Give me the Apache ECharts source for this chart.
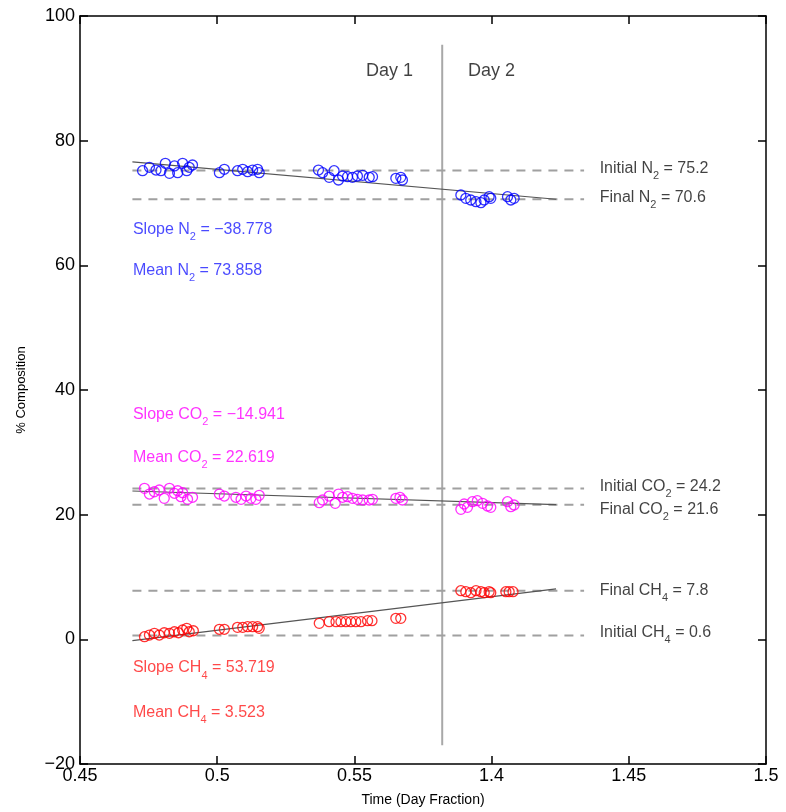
<!DOCTYPE html>
<html><head><meta charset="utf-8">
<script src="https://cdn.jsdelivr.net/npm/echarts@6/dist/echarts.min.js"></script>
<style>html,body{margin:0;padding:0;background:#fff}#chart{width:786px;height:812px}</style>
</head><body><div id="chart"></div>
<script>
// ---------- DATA ----------
const xTickLabels = ['0.45', '0.5', '0.55', '1.4', '1.45', '1.5'];
const day2Offset = 0.8;        // broken axis: day-2 times are drawn shifted left by this amount
const dayBreak = 0.582;        // axis position of the Day 1 / Day 2 divider

// [time (day fraction), % composition]
const n2Points = [
  [0.4728,75.18],[0.4753,75.73],[0.4777,75.29],[0.4795,75.18],[0.4811,76.37],[0.4826,74.76],
  [0.4844,75.94],[0.4856,74.86],[0.4874,76.37],[0.4889,75.18],[0.4898,75.73],[0.4910,76.10],
  [0.5008,74.86],[0.5026,75.41],[0.5074,75.18],[0.5093,75.41],[0.5111,75.02],[0.5129,75.29],
  [0.5147,75.41],[0.5153,74.86],
  [0.5369,75.29],[0.5384,74.86],[0.5408,74.12],[0.5426,75.18],[0.5442,73.69],[0.5457,74.33],
  [0.5475,74.22],[0.5493,74.12],[0.5511,74.33],[0.5530,74.44],[0.5554,74.12],[0.5566,74.22],
  [0.5651,73.96],[0.5669,74.12],[0.5675,73.69],
  [1.3888,71.28],[1.3906,70.75],[1.3924,70.48],[1.3943,70.21],[1.3961,70.05],[1.3973,70.48],
  [1.3991,71.01],[1.3997,70.75],[1.4058,71.01],[1.4070,70.48],[1.4082,70.75]
];
const co2Points = [
  [0.4735,24.23],[0.4753,23.31],[0.4771,23.68],[0.4789,23.96],[0.4807,22.62],[0.4826,24.23],
  [0.4844,23.43],[0.4856,23.84],[0.4868,22.88],[0.4874,23.52],[0.4892,22.46],[0.4910,22.79],
  [0.5008,23.31],[0.5026,22.99],[0.5068,22.79],[0.5087,22.46],[0.5105,22.99],[0.5123,22.62],
  [0.5141,22.46],[0.5153,23.10],
  [0.5372,21.92],[0.5384,22.35],[0.5408,22.99],[0.5430,21.82],[0.5442,23.31],[0.5457,22.79],
  [0.5475,22.88],[0.5493,22.62],[0.5511,22.46],[0.5530,22.35],[0.5554,22.35],[0.5566,22.46],
  [0.5651,22.62],[0.5666,22.79],[0.5675,22.35],
  [1.3888,20.86],[1.3900,21.71],[1.3912,21.18],[1.3930,22.08],[1.3948,22.24],[1.3967,21.82],
  [1.3985,21.39],[1.3997,21.18],[1.4058,22.08],[1.4070,21.28],[1.4082,21.55]
];
const ch4Points = [
  [0.4735,0.42],[0.4753,0.69],[0.4771,0.97],[0.4789,0.69],[0.4807,1.06],[0.4826,0.97],
  [0.4844,1.22],[0.4859,1.06],[0.4874,1.50],[0.4889,1.77],[0.4898,1.22],[0.4913,1.38],
  [0.5008,1.61],[0.5026,1.61],[0.5074,1.93],[0.5093,1.93],[0.5111,2.03],[0.5129,2.03],
  [0.5147,2.03],[0.5153,1.77],
  [0.5372,2.57],[0.5408,2.83],[0.5433,2.83],[0.5451,2.83],[0.5469,2.83],[0.5487,2.83],
  [0.5505,2.83],[0.5524,2.83],[0.5548,2.99],[0.5564,2.99],
  [0.5651,3.37],[0.5669,3.37],
  [1.3888,7.80],[1.3906,7.64],[1.3924,7.48],[1.3943,7.80],[1.3961,7.64],[1.3973,7.48],
  [1.3991,7.64],[1.3997,7.48],[1.4052,7.64],[1.4064,7.64],[1.4078,7.64]
];

// fitted trend lines: [start, end]
const n2Fit  = [[0.4691, 76.6], [1.4235, 70.6]];
const co2Fit = [[0.4691, 23.8], [1.4235, 21.6]];
const ch4Fit = [[0.4691, -0.2], [1.4235, 8.1]];

const gasNames  = ['N', 'CO', 'CH'];
const gasSubs   = ['2', '2', '4'];
const slopes    = ['\u221238.778', '\u221214.941', '53.719'];
const means     = ['73.858', '22.619', '3.523'];
const initials  = [75.2, 24.2, 0.6];
const finals    = [70.6, 21.6, 7.8];
const refSpan   = [0.4691, 1.4337];   // time range of the dashed reference lines

// ---------- STYLE / LAYOUT ----------
const gasColors  = ['#0000ff', '#ff00ff', '#ff0000'];
const textColors = ['#1c1cff', '#ff00ff', '#ff1c1c'];
const FONT = 'Liberation Sans, Arial, Helvetica, sans-serif';
const slopeLabelY = [65.8, 36.1, -4.6];
const meanLabelY  = [59.1, 29.1, -11.7];
const leftLabelX  = 0.4691;
const rightLabelX = 0.6392;
const initLabelShift  = [-2, -2, -3];   // px vertical nudges of the right-hand labels
const finalLabelShift = [-2, 5, 0];
const FS = 16;

const tx = t => (t >= 1 ? t - day2Offset : t);
const mapPts = arr => arr.map(p => [tx(p[0]), p[1]]);

function rich(color, size) {
  return {
    m: { fontFamily: FONT, fontSize: size, color: color, lineHeight: 16 },
    s: { fontFamily: FONT, fontSize: size - 5, color: color, lineHeight: 10, padding: [15, 0, 0, 0] }
  };
}
function txt(prefix, i, suffix) {
  return '{m|' + prefix + gasNames[i] + '}{s|' + gasSubs[i] + '}{m|' + suffix + '}';
}

const series = [];
// divider
series.push({
  type: 'line', data: [[dayBreak, 95.4], [dayBreak, -17]], symbol: 'none', silent: true,
  lineStyle: { color: '#a8a8a8', width: 2 }, z: 1
});
// dashed reference lines
[initials, finals].forEach(arr => arr.forEach(v => {
  series.push({
    type: 'line', data: [[tx(refSpan[0]), v], [tx(refSpan[1]), v]], symbol: 'none', silent: true,
    lineStyle: { color: '#a0a0a0', width: 2, type: [9, 7] }, z: 2
  });
}));
// fit lines
[n2Fit, co2Fit, ch4Fit].forEach(f => {
  series.push({
    type: 'line', data: mapPts(f), symbol: 'none', silent: true,
    lineStyle: { color: '#555', width: 1.2 }, z: 3
  });
});
// points
[n2Points, co2Points, ch4Points].forEach((pts, i) => {
  series.push({
    type: 'scatter', data: mapPts(pts), symbol: 'circle', symbolSize: 10, z: 4,
    itemStyle: { color: 'rgba(0,0,0,0)', borderColor: gasColors[i], borderWidth: 1.3 }
  });
});
// text annotations
const labelData = [];
for (let i = 0; i < 3; i++) {
  labelData.push({ value: [leftLabelX, slopeLabelY[i]],
    label: { formatter: txt('Slope ', i, ' = ' + slopes[i]), rich: rich(textColors[i], FS) } });
  labelData.push({ value: [leftLabelX, meanLabelY[i]],
    label: { formatter: txt('Mean ', i, ' = ' + means[i]), rich: rich(textColors[i], FS) } });
  labelData.push({ value: [rightLabelX, initials[i]],
    label: { formatter: txt('Initial ', i, ' = ' + initials[i]), rich: rich('#111', FS),
      offset: [0, initLabelShift[i]] } });
  labelData.push({ value: [rightLabelX, finals[i]],
    label: { formatter: txt('Final ', i, ' = ' + finals[i]), rich: rich('#111', FS),
      offset: [0, finalLabelShift[i]] } });
}
series.push({
  type: 'scatter', data: labelData, symbolSize: 1, silent: true, z: 5,
  itemStyle: { color: 'rgba(0,0,0,0)' },
  label: { show: true, position: 'right', distance: 0 }
});
series.push({
  type: 'scatter', silent: true, symbolSize: 1, z: 5, itemStyle: { color: 'rgba(0,0,0,0)' },
  data: [{ value: [0.5628, 91.2], name: 'Day 1' }, { value: [0.6, 91.2], name: 'Day 2' }],
  label: { show: true, position: 'inside', formatter: p => p.name,
    fontFamily: FONT, fontSize: 18, color: '#111' }
});

const axisCommon = {
  axisLine: { show: true, onZero: false, lineStyle: { color: '#000', width: 1.5 } },
  axisTick: { show: true, inside: true, length: 8, lineStyle: { color: '#000', width: 1.5 } },
  splitLine: { show: false }
};
const xRange = { type: 'value', min: 0.45, max: 0.70, interval: 0.05 };
const yRange = { type: 'value', min: -20, max: 100, interval: 20 };

const option = {
  animation: false,
  backgroundColor: '#fff',
  grid: { left: 80, right: 20, top: 16, bottom: 48 },
  xAxis: [
    Object.assign({}, xRange, axisCommon, {
      position: 'bottom',
      axisLabel: { margin: 3, fontFamily: FONT, fontSize: 18, color: '#000',
        formatter: v => xTickLabels[Math.round((v - 0.45) / 0.05)] },
      name: 'Time (Day Fraction)', nameLocation: 'middle', nameGap: 29,
      nameTextStyle: { fontFamily: FONT, fontSize: 14, color: '#000' }
    }),
    Object.assign({}, xRange, axisCommon, { position: 'top', axisLabel: { show: false } })
  ],
  yAxis: [
    Object.assign({}, yRange, axisCommon, {
      position: 'left',
      axisLabel: { margin: 5, fontFamily: FONT, fontSize: 18, color: '#000',
        formatter: v => (v < 0 ? '\u2212' + Math.abs(v) : String(v)) },
      name: '% Composition', nameLocation: 'middle', nameGap: 52, nameRotate: 90,
      nameTextStyle: { fontFamily: FONT, fontSize: 13, color: '#000' }
    }),
    Object.assign({}, yRange, axisCommon, { position: 'right', axisLabel: { show: false } })
  ],
  series: series
};

const chart = echarts.init(document.getElementById('chart'), null, { renderer: 'canvas' });
chart.setOption(option);
</script>
</body></html>
